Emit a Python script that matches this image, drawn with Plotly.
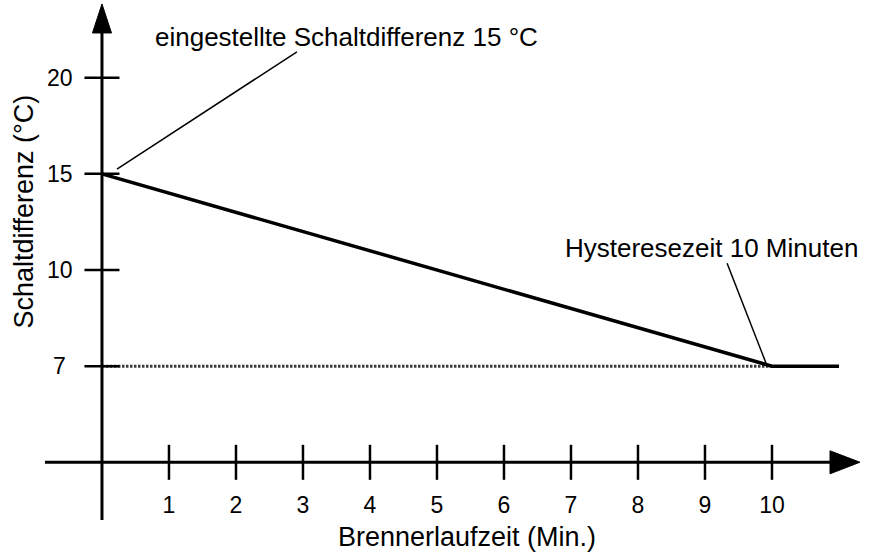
import plotly.graph_objects as go

# Vertical axis levels (schematic, evenly spaced steps)
y_levels = ["0", "7", "10", "15", "20"]
y_tick_labels = ["7", "10", "15", "20"]

# Burner runtime ticks in minutes
x_ticks = [1, 2, 3, 4, 5, 6, 7, 8, 9, 10]

# Switching difference over burner runtime
runtime_min = [0, 10, 11]
schaltdiff = ["15", "7", "7"]

# Minimum switching difference reference line
min_runtime = [0, 10]
min_diff = ["7", "7"]

FONT = "Arial, 'Liberation Sans', sans-serif"
INK = "#000000"

fig = go.Figure()

# dotted reference at the minimum difference
fig.add_trace(go.Scatter(
    x=min_runtime, y=min_diff, mode="lines",
    line=dict(color="#3a3a3a", width=3, dash="2.5px,1.5px"),
    hoverinfo="skip", showlegend=False,
))

# switching difference curve
fig.add_trace(go.Scatter(
    x=runtime_min, y=schaltdiff, mode="lines",
    line=dict(color=INK, width=3.5),
    hoverinfo="skip", showlegend=False,
))

# crossing tick marks on the runtime axis
fig.add_trace(go.Scatter(
    x=x_ticks, y=["0"] * len(x_ticks), mode="markers",
    marker=dict(symbol="line-ns", size=25, line=dict(color=INK, width=2.5)),
    hoverinfo="skip", showlegend=False,
))

# crossing tick marks on the difference axis
fig.add_trace(go.Scatter(
    x=[0] * len(y_tick_labels), y=y_tick_labels, mode="markers",
    marker=dict(symbol="line-ew", size=25, line=dict(color=INK, width=2.5)),
    hoverinfo="skip", showlegend=False,
))

shapes = [
    # vertical axis line and arrowhead
    dict(type="line", xref="x", yref="y", x0=0, x1=0, y0=-0.6, y1=4.5,
         line=dict(color=INK, width=3)),
    dict(type="path", xref="x", yref="y",
         path="M -0.142,4.465 L 0.142,4.465 L 0,4.767 Z",
         fillcolor=INK, line=dict(color=INK, width=1)),
    # horizontal axis line and arrowhead
    dict(type="line", xref="x", yref="y", x0=-0.851, x1=10.9, y0=0, y1=0,
         line=dict(color=INK, width=3)),
    dict(type="path", xref="x", yref="y",
         path="M 10.866,-0.1196 L 10.866,0.1196 L 11.313,0.001 Z",
         fillcolor=INK, line=dict(color=INK, width=1)),
    # leader lines to the callouts
    dict(type="line", xref="x", yref="y", x0=0.224, y0=3.05, x1=2.91, y1=4.269,
         line=dict(color=INK, width=1.5)),
    dict(type="line", xref="x", yref="y", x0=9.91, y0=1.033, x1=9.33, y1=2.07,
         line=dict(color=INK, width=1.5)),
]

annotations = [
    dict(x=3.657, y=4.423, xref="x", yref="y", showarrow=False,
         text="eingestellte Schaltdifferenz 15 °C",
         font=dict(family=FONT, size=26, color=INK)),
    dict(x=9.104, y=2.229, xref="x", yref="y", showarrow=False,
         text="Hysteresezeit 10 Minuten",
         font=dict(family=FONT, size=26, color=INK)),
    dict(x=5.448, y=-0.943, xref="x", yref="y", showarrow=False,
         yanchor="bottom", borderpad=0,
         text="Brennerlaufzeit (Min.)",
         font=dict(family=FONT, size=27, color=INK)),
    dict(x=-1.164, y=2.608, xref="x", yref="y", showarrow=False,
         text="Schaltdifferenz (°C)", textangle=-90,
         font=dict(family=FONT, size=27, color=INK)),
]

# tick labels of the difference axis, centred left of the axis
# (annotations on a category axis take the category's serial position)
for lab in y_tick_labels:
    annotations.append(dict(
        x=-0.627, y=y_levels.index(lab), xref="x", yref="y", showarrow=False,
        xanchor="center", text=lab,
        font=dict(family=FONT, size=23, color=INK),
    ))

fig.update_layout(
    width=870, height=553,
    margin=dict(l=0, r=0, t=0, b=0),
    paper_bgcolor="white", plot_bgcolor="white",
    shapes=shapes, annotations=annotations,
    xaxis=dict(
        range=[-1.522, 11.463], tickvals=x_ticks, ticks="",
        showgrid=False, zeroline=False, showline=False,
        anchor="free", position=(553 - 462.3) / 553,
        ticklabelstandoff=27, automargin=False,
        tickfont=dict(family=FONT, size=23, color=INK),
    ),
    yaxis=dict(
        type="category", categoryorder="array", categoryarray=y_levels,
        range=[-0.943, 4.808], tickvals=y_tick_labels, ticks="",
        showticklabels=False,
        showgrid=False, zeroline=False, showline=False,
        anchor="free", position=102 / 870, automargin=False,
    ),
)

fig.write_html("out.html", config={"displayModeBar": False})
